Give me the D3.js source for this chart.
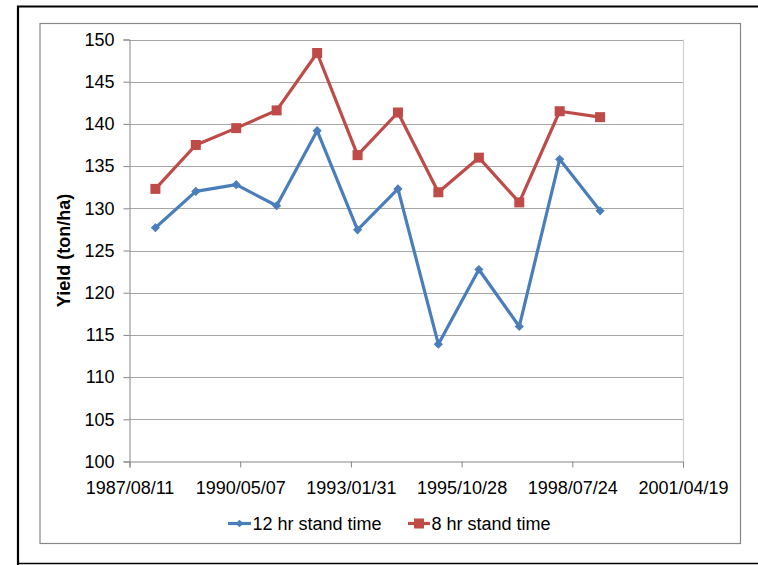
<!DOCTYPE html>
<html>
<head>
<meta charset="utf-8">
<script src="https://cdn.jsdelivr.net/npm/d3@7"></script>
<style>
  html, body { margin: 0; padding: 0; background: #fff; }
  svg { display: block; font-family: "Liberation Sans", Arial, sans-serif; }
</style>
</head>
<body>
<svg id="chart" width="758" height="565"></svg>
<script>
// ---- data ----
const dates = ["1988/04/01","1989/04/01","1990/04/01","1991/04/01","1992/04/01","1993/04/01",
               "1994/04/01","1995/04/01","1996/04/01","1997/04/01","1998/04/01","1999/04/01"];
const yield12 = [127.7, 132.0, 132.8, 130.3, 139.2, 127.45, 132.3, 113.9, 122.75, 116.0, 135.8, 129.7];
const yield8  = [132.3, 137.5, 139.5, 141.6, 148.4, 136.3, 141.35, 131.9, 136.0, 130.7, 141.5, 140.8];
const seriesNames = ["12 hr stand time", "8 hr stand time"];
const xTickLabels = ["1987/08/11","1990/05/07","1993/01/31","1995/10/28","1998/07/24","2001/04/19"];
const yTicks = [100,105,110,115,120,125,130,135,140,145,150];
const yTitle = "Yield (ton/ha)";

// ---- setup ----
const parse = d3.utcParse("%Y/%m/%d");
const fmt = d3.utcFormat("%Y/%m/%d");
const svg = d3.select("#chart");
const blue = "#4A7EBB", red = "#BE4B48";

const pL = 129.5, pR = 683, pT = 39.5, pB = 461.5;
const x = d3.scaleUtc().domain([parse(xTickLabels[0]), parse(xTickLabels[xTickLabels.length-1])]).range([pL, pR]);
const y = d3.scaleLinear().domain([100, 150]).range([pB, pT]);

// outer black frame
svg.append("path").attr("d", "M18,565 L18,6.5 L758,6.5").attr("fill","none").attr("stroke","#000").attr("stroke-width",2.2);
svg.append("line").attr("x1",18).attr("x2",758).attr("y1",563.5).attr("y2",563.5).attr("stroke","#000").attr("stroke-width",1.5);
// inner chart frame
svg.append("rect").attr("x",40).attr("y",23.5).attr("width",700.5).attr("height",520)
  .attr("fill","#fff").attr("stroke","#868686").attr("stroke-width",1.2);

// gridlines
svg.append("g").selectAll("line").data(yTicks.slice(1)).join("line")
  .attr("x1", pL).attr("x2", pR)
  .attr("y1", d => Math.round(y(d)) + 0.5).attr("y2", d => Math.round(y(d)) + 0.5)
  .attr("stroke", "#a6a6a6").attr("stroke-width", 1);
// right plot border
svg.append("line").attr("x1", pR+0.5).attr("x2", pR+0.5).attr("y1", pT).attr("y2", pB)
  .attr("stroke","#d0d0d0").attr("stroke-width",1.2);

// y axis
const yAxis = d3.axisLeft(y).tickValues(yTicks).tickSize(6).tickPadding(9);
const gy = svg.append("g").attr("transform", `translate(${pL},0)`).call(yAxis);
gy.select(".domain").attr("stroke","#868686");
gy.selectAll(".tick line").attr("stroke","#868686");
gy.selectAll(".tick text").attr("font-size", 18).attr("fill","#000")
  .attr("font-family", "'Liberation Sans', Arial, sans-serif");

// x axis
const xAxis = d3.axisBottom(x).tickValues(xTickLabels.map(parse)).tickFormat(fmt).tickSize(6).tickPadding(14);
const gx = svg.append("g").attr("transform", `translate(0,${pB})`).call(xAxis);
gx.select(".domain").attr("stroke","#868686");
gx.selectAll(".tick line").attr("stroke","#868686");
gx.selectAll(".tick text").attr("font-size", 18).attr("fill","#000")
  .attr("font-family", "'Liberation Sans', Arial, sans-serif");

// y title
svg.append("text").attr("transform", `translate(70,${(pT+pB)/2}) rotate(-90)`)
  .attr("text-anchor","middle").attr("font-size",18).attr("font-weight","bold").text(yTitle);

// series
const line = d3.line().x(d => x(d[0])).y(d => y(d[1]));
const d12 = dates.map((d,i) => [parse(d), yield12[i]]);
const d8 = dates.map((d,i) => [parse(d), yield8[i]]);

svg.append("path").datum(d12).attr("d", line).attr("fill","none").attr("stroke",blue).attr("stroke-width",3.2).attr("stroke-linejoin","round");
svg.append("path").datum(d8).attr("d", line).attr("fill","none").attr("stroke",red).attr("stroke-width",3.2).attr("stroke-linejoin","round");

svg.append("g").selectAll("path").data(d12).join("path")
  .attr("d", d3.symbol().type(d3.symbolSquare).size(30))
  .attr("transform", d => `translate(${x(d[0])},${y(d[1])}) rotate(45)`)
  .attr("fill", blue).attr("stroke", blue).attr("stroke-width",1);
svg.append("g").selectAll("rect").data(d8).join("rect")
  .attr("x", d => x(d[0]) - 5).attr("y", d => y(d[1]) - 5)
  .attr("width", 10).attr("height", 10).attr("fill", red);

// legend
const lg = svg.append("g");
lg.append("line").attr("x1",228).attr("x2",251).attr("y1",523.5).attr("y2",523.5).attr("stroke",blue).attr("stroke-width",3.2);
lg.append("path").attr("d", d3.symbol().type(d3.symbolSquare).size(30)).attr("transform","translate(239.5,523.5) rotate(45)").attr("fill",blue);
lg.append("text").attr("x",252.5).attr("y",530).attr("font-size",18).text(seriesNames[0]);
lg.append("line").attr("x1",408).attr("x2",430).attr("y1",523.5).attr("y2",523.5).attr("stroke",red).attr("stroke-width",3.2);
lg.append("rect").attr("x",414).attr("y",518.5).attr("width",10).attr("height",10).attr("fill",red);
lg.append("text").attr("x",431.5).attr("y",530).attr("font-size",18).text(seriesNames[1]);
</script>
</body>
</html>
